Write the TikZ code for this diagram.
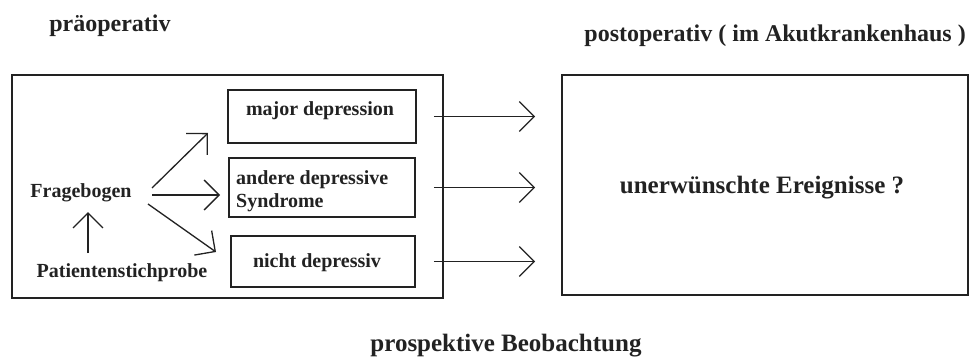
\documentclass[tikz,border=0pt]{standalone}
\usepackage{fontspec}
\setmainfont{Liberation Serif}
\usetikzlibrary{arrows.meta}
\definecolor{ink}{HTML}{222222}
\begin{document}
\begin{tikzpicture}[x=1pt,y=-1pt,
  box/.style={draw=ink, line width=1.6pt, inner sep=0pt, rectangle},
  lbl/.style={font=\fontsize{20}{23}\selectfont\bfseries, inner sep=0pt, text=ink},
  big/.style={font=\fontsize{24}{28}\selectfont\bfseries, inner sep=0pt, text=ink},
  bigger/.style={font=\fontsize{25}{29}\selectfont\bfseries, inner sep=0pt, text=ink},
  arr/.style={draw=ink, line width=1.3pt, -{Straight Barb[length=15pt,width=30pt]}}]
\useasboundingbox[fill=white] (0,0) rectangle (970,361);
% boxes
\node[box, minimum width=431pt, minimum height=223pt] (outer) at (227.5,186.5) {};
\node[box, minimum width=406pt, minimum height=220pt] (post) at (765,185) {};
\node[box, minimum width=188pt, minimum height=53pt] (major) at (322,116.5) {};
\node[box, minimum width=186pt, minimum height=59pt] (andere) at (322,187.5) {};
\node[box, minimum width=184pt, minimum height=51pt] (nicht) at (323,261.5) {};
% texts
\node[big, anchor=base] (tpre) at (110,32) {präoperativ};
\node[big, anchor=base east] (tpost) at (966,42) {postoperativ ( im Akutkrankenhaus )};
\node[bigger, anchor=base] (tevent) at (762,193) {unerwünschte Ereignisse ?};
\node[bigger, anchor=base] (tprosp) at (506,351) {prospektive Beobachtung};
\node[lbl, anchor=base] (frage) at (81,197) {Fragebogen};
\node[lbl, anchor=base] (patient) at (122,277) {Patientenstichprobe};
\node[lbl, anchor=base] (tmajor) at (320,115) {major depression};
\node[lbl, anchor=base west, align=left] (tandere) at (236,207) {andere depressive\\Syndrome};
\node[lbl, anchor=base] (tnicht) at (317,267) {nicht depressiv};
% arrow end points
\coordinate (u0) at (88,253);
\coordinate (u1) at (88,212);
\coordinate (d1s) at (152,188);
\coordinate (d1e) at (208,133);
\coordinate (d2s) at (152,195);
\coordinate (d2e) at (220,195);
\coordinate (d3s) at (148,204);
\coordinate (d3e) at (216,252);
% arrows
\draw[arr] (u0) -- (u1);
\draw[arr] (d1s) -- (d1e);
\draw[arr] (d2s) -- (d2e);
\draw[arr] (d3s) -- (d3e);
\draw[arr, shorten <=17pt, shorten >=26pt] (major.east) -- (major.east -| post.west);
\draw[arr, shorten <=18pt, shorten >=26pt] (andere.east) -- (andere.east -| post.west);
\draw[arr, shorten <=18pt, shorten >=26pt] (nicht.east) -- (nicht.east -| post.west);
\end{tikzpicture}
\end{document}
